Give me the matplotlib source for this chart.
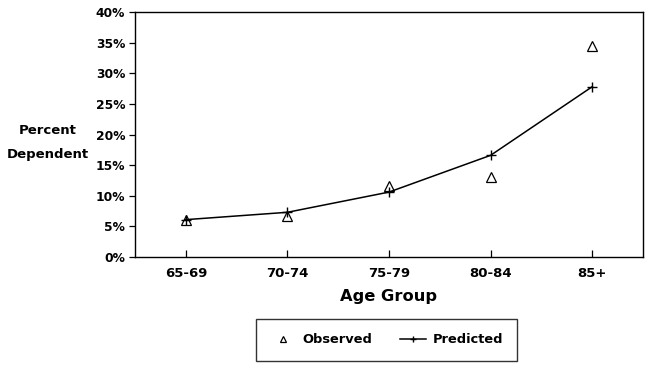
import matplotlib.pyplot as plt
from matplotlib.ticker import PercentFormatter

age_groups = ['65-69', '70-74', '75-79', '80-84', '85+']
observed = [6.1, 6.7, 11.6, 13.0, 34.5]
predicted = [6.1, 7.3, 10.6, 16.6, 27.8]
y_ticks = [0, 5, 10, 15, 20, 25, 30, 35, 40]

plt.rcParams['font.family'] = ['DejaVu Sans']

fig = plt.figure(figsize=(6.51, 3.69), dpi=100)
ax = fig.add_axes([0.2074, 0.3035, 0.7803, 0.664])

x = list(range(len(age_groups)))
ax.plot(x, predicted, color='black', lw=1.1, marker='+', ms=7, mew=1.0,
        label='Predicted')
ax.plot(x, observed, ls='none', marker='^', ms=6.5, mfc='none', mec='black',
        mew=0.9, label='Observed')

ax.set_xlim(-0.5, 4.5)
ax.set_ylim(0, 40)
ax.set_xticks(x)
ax.set_xticklabels(age_groups, fontsize=9.5, fontweight='bold')
ax.set_yticks(y_ticks)
ax.yaxis.set_major_formatter(PercentFormatter(decimals=0))
for lab in ax.get_yticklabels():
    lab.set_fontsize(8.8)
    lab.set_fontweight('bold')
ax.tick_params(axis='x', direction='in', length=5, width=0.9, pad=7)
ax.tick_params(axis='y', direction='out', length=4, width=0.9, pad=3)
for s in ax.spines.values():
    s.set_linewidth(1.0)

ax.set_xlabel('Age Group', fontsize=11.7, fontweight='bold', labelpad=7)
fig.text(0.074, 0.614, 'Percent\nDependent', ha='center', va='center',
         fontsize=9.5, fontweight='bold', linespacing=2.1)

handles, labels = ax.get_legend_handles_labels()
leg = fig.legend(handles[::-1], labels[::-1], loc='center',
                 bbox_to_anchor=(0.5937, 0.0786), ncol=2, frameon=True,
                 fancybox=False, edgecolor='black',
                 prop={'weight': 'bold', 'size': 9.4}, borderpad=1.1,
                 columnspacing=2.1, handlelength=2.0, handletextpad=0.5,
                 borderaxespad=0)
leg.get_frame().set_linewidth(1.0)
leg.legend_handles[0].set_markersize(4)
leg.legend_handles[1].set_markersize(5)

fig.savefig('out.png', dpi=100)
